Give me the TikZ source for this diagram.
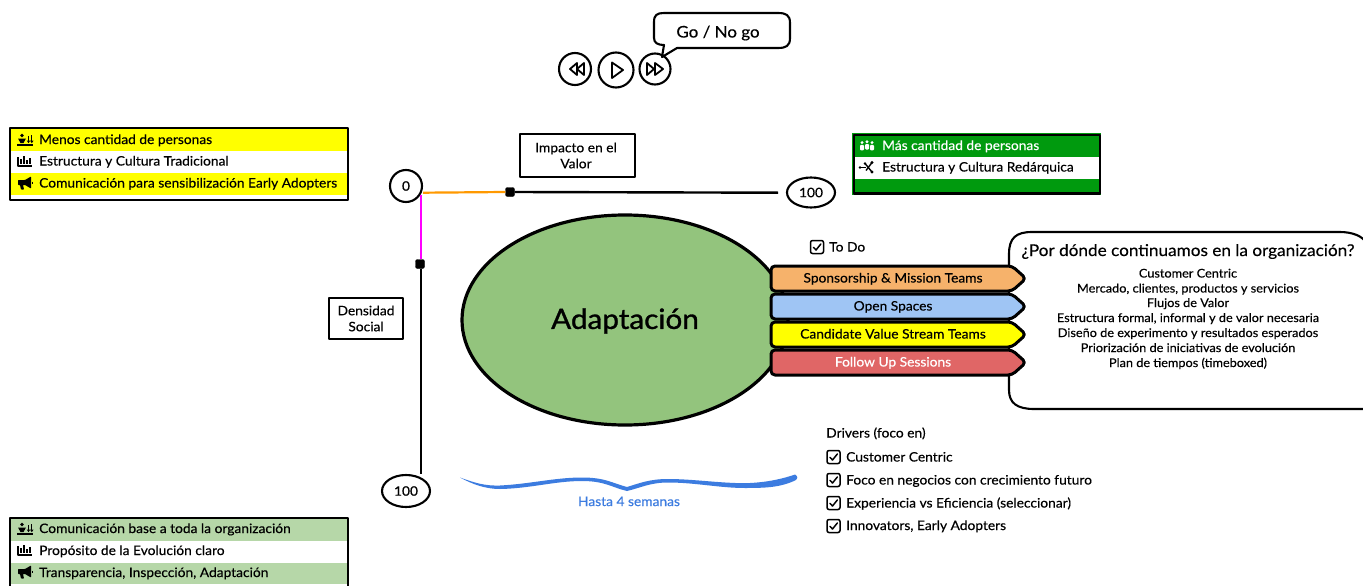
\documentclass[tikz,border=0pt]{standalone}
\usepackage{fontspec}
\setmainfont[FakeStretch=1.06,FakeBold=0.35]{Lato}
\newfontfamily\heavyfont[FakeStretch=1.06,FakeBold=1.1]{Lato}
\usetikzlibrary{shapes.geometric}
\definecolor{rowyellow}{HTML}{FFFF00}
\definecolor{rowgreen}{HTML}{B6D7A8}
\definecolor{rowdark}{HTML}{009A0E}
\definecolor{blob}{HTML}{93C47D}
\definecolor{aorange}{HTML}{F6B26B}
\definecolor{ablue}{HTML}{9FC5F4}
\definecolor{ared}{HTML}{E06666}
\definecolor{bluetxt}{HTML}{3C7CE0}
\definecolor{lineorange}{HTML}{FF9900}
\definecolor{linemag}{HTML}{FF00FF}
\tikzset{
  x=1pt,y=-1pt,
  sk/.style={draw=black,line width=2.1pt,line join=round,line cap=round},
  lab/.style={font=\fontsize{13}{15}\selectfont,inner sep=0pt,text=black},
  row/.style={lab,anchor=base west},
  ctr/.style={lab,anchor=base,align=center},
  qline/.style={ctr,font=\fontsize{12}{14}\selectfont},
  numcirc/.style={sk,fill=white,inner sep=0pt,font=\fontsize{13}{15}\selectfont},
  knob/.style={fill=black,draw=black,rounded corners=2pt,minimum size=9pt,inner sep=0pt},
  vbox/.style={sk,fill=white,inner sep=0pt,font=\fontsize{13}{16}\selectfont,align=center},
  flow/.style={line width=3pt,draw=black,line join=round,rounded corners=4pt},
  media/.style={sk,circle,fill=white,inner sep=0pt},
}
\newcommand{\arrowbar}[5]{% y, colour, text colour, name, text
  \draw[flow,fill=#2] (771,#1) -- (1012,#1) -- (1026,#1+12.5) -- (1012,#1+25) -- (771,#1+25) -- cycle;
  \node[ctr,text=#3,anchor=base] (#4) at (893,#1+16.5) {#5};
}
\newcommand{\chk}[2]{% x,y centre
  \draw[line width=1.5pt,rounded corners=2pt] (#1-6.5,#2-6.5) rectangle (#1+6.5,#2+6.5);
  \draw[line width=1.5pt,line cap=round,line join=round] (#1-3.5,#2+0.3) -- (#1-1,#2+3) -- (#1+3.8,#2-3);
}
\newcommand{\icPeople}[2]{%
  \begin{scope}[shift={(#1,#2)}]
    \fill (-3,-4.5) circle (1.8);
    \fill (-7,-1.5) -- (1,-1.5) -- (-1.5,3) -- (-4.5,3) -- cycle;
    \draw[line width=1.3pt] (-8,5) -- (8,5);
    \draw[line width=1.1pt] (3.5,-4) -- (3.5,2);
    \draw[line width=1.1pt] (6.8,-5) -- (6.8,2);
    \fill (1.7,0.5) -- (5.3,0.5) -- (3.5,3.2) -- cycle;
    \fill (5,0.5) -- (8.6,0.5) -- (6.8,3.2) -- cycle;
  \end{scope}}
\newcommand{\icBars}[2]{%
  \begin{scope}[shift={(#1,#2)}]
    \draw[line width=1.3pt,line join=round] (-7,-4) -- (-7,5) -- (7,5);
    \foreach \xx/\yy in {-4/-2,-1/-5,2/-1,5/-3}
      \draw[line width=1.5pt] (\xx,\yy) -- (\xx,3);
  \end{scope}}
\newcommand{\icHorn}[2]{%
  \begin{scope}[shift={(#1,#2)}]
    \fill[rounded corners=0.6pt] (-7,-3) -- (0,-3) -- (6,-6.5) -- (6,5.5) -- (0,2) -- (-2,2) -- (-1,6.5) -- (-4,6.5) -- (-5,2) -- (-7,2) -- cycle;
    \draw[line width=1.3pt] (7.3,-1.5) -- (7.3,1);
  \end{scope}}
\newcommand{\icCrowd}[2]{%
  \begin{scope}[shift={(#1,#2)},white]
    \foreach \xx/\yy in {-5/0.8,0/0,5/0.8} {
      \fill (\xx,\yy-3.2) circle (1.6);
      \fill[rounded corners=1pt] (\xx-2,\yy-1) rectangle (\xx+2,\yy+4.5);
    }
  \end{scope}}
\newcommand{\icNet}[2]{%
  \begin{scope}[shift={(#1,#2)}]
    \draw[line width=1.4pt] (-7,0.5) -- (-1,0.5);
    \draw[line width=1.4pt] (-2,-3.5) -- (5,5);
    \draw[line width=1.4pt] (-1,3.5) -- (5,-4.5);
    \fill (-7,0.5) circle (1.4) (5,-4.5) circle (1.7) (5,5) circle (1.7) (-2,-3.5) circle (1.4);
  \end{scope}}
\begin{document}
\begin{tikzpicture}
\useasboundingbox (0,0) rectangle (1363,586);
\fill[white] (0,0) rectangle (1363,586);

% ---------- media buttons
\node[media,minimum size=32pt] (rew) at (575,69) {};
\node[media,minimum size=35pt] (play) at (616,70) {};
\node[media,minimum size=31pt] (ffw) at (655,69) {};
\draw[line width=1.8pt,line join=round] (570,69) -- (577,63) -- (577,75) -- cycle (577,69) -- (584,63) -- (584,75) -- cycle;
\draw[line width=1.8pt,line join=round] (612,62.5) -- (623,70) -- (612,78) -- cycle;
\draw[line width=1.8pt,line join=round] (647,63) -- (654,69) -- (647,75) -- cycle (655,63) -- (663,69) -- (655,75) -- cycle;
\draw[sk,fill=white] (664,13) .. controls (657,13) and (654,15) .. (654,22) -- (654,38)
   .. controls (654,43) and (658,45) .. (664,45) -- (662,57) -- (677,48) -- (778,48)
   .. controls (786,48) and (790,46) .. (790,38) -- (790,23) .. controls (790,15) and (786,13) .. (778,13) -- cycle;
\node[ctr,font=\fontsize{16}{18}\selectfont] (gonogo) at (718,37.5) {Go / No go};

% ---------- yellow legend
\fill[rowyellow] (10,127) rectangle (348,151);
\fill[rowyellow] (10,173) rectangle (348,195);
\draw[sk] (10,128) rectangle (348,200);
\icPeople{25}{140}\icBars{25}{161}\icHorn{25}{183}
\node[row] (y1) at (39,144) {Menos cantidad de personas};
\node[row] (y2) at (39,165.5) {Estructura y Cultura Tradicional};
\node[row] (y3) at (39,187.5) {Comunicación para sensibilización Early Adopters};

% ---------- bottom legend
\fill[rowgreen] (11,518) rectangle (347,541);
\fill[rowgreen] (11,563) rectangle (347,584);
\draw[sk] (10,586) -- (10,518) -- (348,518) -- (348,586);
\icPeople{25}{529}\icBars{25}{550}\icHorn{25}{572}
\node[row] (b1) at (39,533) {Comunicación base a toda la organización};
\node[row] (b2) at (39,555) {Propósito de la Evolución claro};
\node[row] (b3) at (39,577) {Transparencia, Inspección, Adaptación};

% ---------- green legend
\fill[rowdark] (852,133) rectangle (1101,195);
\fill[white] (855,157) rectangle (1099,179);
\draw[sk,draw=black] (854,135) rectangle (1100,193.5);
\icCrowd{867}{145}\icNet{867}{167}
\node[row,text=white] (g1) at (882,150) {Más cantidad de personas};
\node[row] (g2) at (882,171.5) {Estructura y Cultura Redárquica};

% ---------- axes
\node[numcirc,circle,minimum size=32pt] (n0) at (406,186) {0};
\node[numcirc,ellipse,minimum width=48pt,minimum height=30pt] (nh) at (811,192.5) {100};
\node[numcirc,ellipse,minimum width=48pt,minimum height=32pt] (nv) at (406,491) {100};
\node[knob] (kh) at (510,192) {};
\node[knob] (kv) at (420,264) {};
\coordinate (hstart) at (423,192.7);
\coordinate (hend) at (778,192.7);
\coordinate (vstart) at (421,195);
\coordinate (vend) at (421,474);
\draw[line width=2.2pt,lineorange] (hstart) -- (kh.west);
\draw[line width=2.4pt,black] (kh.east) -- (hend);
\draw[line width=2.4pt,linemag] (vstart) -- (kv.north -| vstart);
\draw[line width=2.6pt,black] (kv.south -| vstart) -- (vend);
\node[vbox,minimum width=115pt,minimum height=43pt] (impact) at (577.5,155.5) {\hspace*{-3pt}Impacto en el\\\hspace*{-3pt}Valor};
\node[vbox,minimum width=74pt,minimum height=41pt] (dens) at (366,318.5) {Densidad\\Social};

% ---------- central blob
\draw[line width=3.2pt,fill=blob] (625,320) ellipse [x radius=163,y radius=105];
\node[inner sep=0pt,font=\heavyfont\fontsize{28}{32}\selectfont] (adapt) at (625,321) {Adaptación};

% ---------- question box
\draw[sk,fill=white] (1009,254) .. controls (1009,238) and (1016,232) .. (1032,232) -- (1340,232)
   .. controls (1352,232) and (1363,236) .. (1366,243) -- (1366,409) -- (1034,409)
   .. controls (1017,409) and (1009,403) .. (1009,390) -- cycle;
\node[ctr,font=\fontsize{16.2}{18}\selectfont] (q) at (1188,256) {¿Por dónde continuamos en la organización?};
\node[qline] (q1) at (1188,277.5) {Customer Centric};
\node[qline] (q2) at (1188,292.5) {Mercado, clientes, productos y servicios};
\node[qline] (q3) at (1188,307) {Flujos de Valor};
\node[qline] (q4) at (1188,322) {Estructura formal, informal y de valor necesaria};
\node[qline] (q5) at (1188,337) {Diseño de experimento y resultados esperados};
\node[qline] (q6) at (1188,352) {Priorización de iniciativas de evolución};
\node[qline] (q7) at (1188,367) {Plan de tiempos (timeboxed)};

% ---------- arrow bars
\arrowbar{266}{aorange}{black}{a1}{Sponsorship \& Mission Teams}
\arrowbar{294}{ablue}{black}{a2}{Open Spaces}
\arrowbar{322}{rowyellow}{black}{a3}{Candidate Value Stream Teams}
\arrowbar{350}{ared}{white}{a4}{Follow Up Sessions}

\chk{817}{247}
\node[row] (todo) at (829,251.5) {To Do};

% ---------- drivers
\node[row] (drv) at (826,437.5) {Drivers (foco en)};
\chk{833.5}{457}\node[row] (d1) at (846,461.5) {Customer Centric};
\chk{833.5}{480}\node[row] (d2) at (846,484.5) {Foco en negocios con crecimiento futuro};
\chk{833.5}{503}\node[row] (d3) at (846,507.5) {Experiencia vs Eficiencia (seleccionar)};
\chk{833.5}{526}\node[row] (d4) at (846,530) {Innovators, Early Adopters};

% ---------- brace
\fill[bluetxt] (460,477.5) .. controls (475,483) and (485,486) .. (500,485.5)
   .. controls (530,484) and (555,477.5) .. (582,477.5) .. controls (605,477.5) and (612,483) .. (627,487)
   .. controls (640,483) and (650,479) .. (668,479) .. controls (695,479) and (725,484) .. (750,483)
   .. controls (770,482) and (785,478) .. (795,474.5) .. controls (798,476) and (798,479) .. (795,480.5)
   .. controls (780,487.5) and (765,488) .. (745,488) .. controls (720,488) and (695,482.5) .. (668,482.5)
   .. controls (650,482.5) and (640,488) .. (627,491) .. controls (612,487.5) and (605,481) .. (582,481)
   .. controls (555,481) and (530,488.5) .. (500,489) .. controls (485,489) and (472,484) .. (460,477.5) -- cycle;
\node[ctr,text=bluetxt] (weeks) at (629,506) {Hasta 4 semanas};
\end{tikzpicture}
\end{document}
